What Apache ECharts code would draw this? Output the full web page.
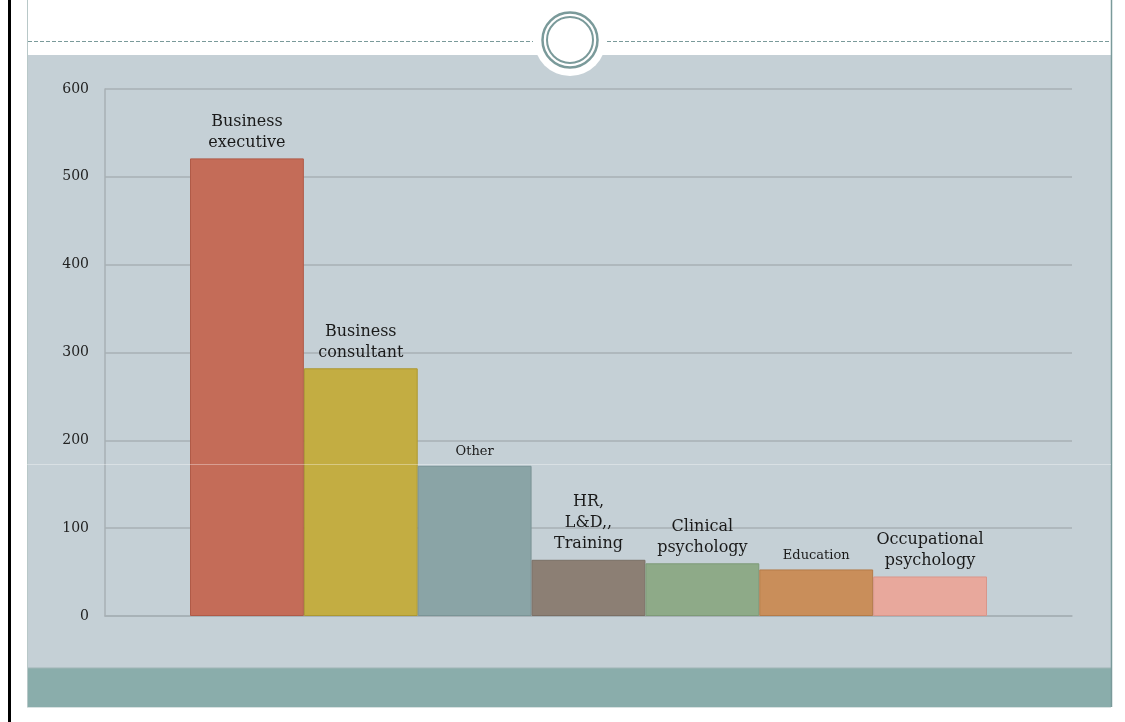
<!DOCTYPE html>
<html>
<head>
<meta charset="utf-8">
<title>Occupations</title>
<script src="https://cdn.jsdelivr.net/npm/echarts@6/dist/echarts.min.js"></script>
<style>
  html, body { margin: 0; padding: 0; background: #ffffff; }
  #chart { width: 1125px; height: 722px; }
</style>
</head>
<body>
<div id="chart"></div>
<script>
// Occupation categories (bar labels) and respondent counts
const categories = [
  'Business\nexecutive',
  'Business\nconsultant',
  'Other',
  'HR,\nL&D,,\nTraining',
  'Clinical\npsychology',
  'Education',
  'Occupational\npsychology'
];
const counts = [521, 282, 171, 64, 60, 53, 45];
const barColors = ['#c46c58', '#c3ad42', '#8aa4a6', '#8c7f74', '#8eaa88', '#c98e5a', '#e8a89c'];
const barBorders = ['#b05a47', '#ad9830', '#7a9496', '#7b6f65', '#7e9a78', '#b57b48', '#d9968a'];
const labelSizes = [16, 16, 13, 16, 16, 13, 16];
const yTicks = { min: 0, max: 600, interval: 100 };

const chart = echarts.init(document.getElementById('chart'));
const serif = 'DejaVu Serif';

const option = {
  animation: false,
  backgroundColor: '#ffffff',
  graphic: [
    // slide panel and bottom band
    { type: 'rect', z: -10, shape: { x: 27, y: 55, width: 1084, height: 613 }, style: { fill: '#c5d0d6' } },
    { type: 'rect', z: -10, shape: { x: 27, y: 668, width: 1084, height: 39 }, style: { fill: '#8aadab' } },
    { type: 'line', z: -9, shape: { x1: 27, y1: 668, x2: 1111, y2: 668 }, style: { stroke: '#9fb5b6', lineWidth: 1 } },
    // frame lines
    { type: 'line', z: -9, shape: { x1: 27.5, y1: 0, x2: 27.5, y2: 707 }, style: { stroke: '#b8c8c8', lineWidth: 1 } },
    { type: 'line', z: -9, shape: { x1: 1111.5, y1: 0, x2: 1111.5, y2: 707 }, style: { stroke: '#7a9a9a', lineWidth: 1.5 } },
    { type: 'line', z: -9, shape: { x1: 27, y1: 707.5, x2: 1111, y2: 707.5 }, style: { stroke: '#d8e2e2', lineWidth: 1 } },
    { type: 'line', z: -9, shape: { x1: 9.5, y1: 0, x2: 9.5, y2: 722 }, style: { stroke: '#000000', lineWidth: 3 } },
    // dashed header rule
    { type: 'line', z: -9, shape: { x1: 28, y1: 41.5, x2: 533, y2: 41.5 }, style: { stroke: '#7a9a9a', lineWidth: 1, lineDash: [4, 2] } },
    { type: 'line', z: -9, shape: { x1: 607, y1: 41.5, x2: 1111, y2: 41.5 }, style: { stroke: '#7a9a9a', lineWidth: 1, lineDash: [4, 2] } },
    // circular ornament
    { type: 'circle', z: -8, shape: { cx: 570, cy: 40, r: 36 }, style: { fill: '#ffffff' } },
    { type: 'circle', z: -7, shape: { cx: 570, cy: 40, r: 27.5 }, style: { fill: 'none', stroke: '#7a9a9a', lineWidth: 2.5 } },
    { type: 'circle', z: -7, shape: { cx: 570, cy: 40, r: 23 }, style: { fill: 'none', stroke: '#7a9a9a', lineWidth: 2 } },
    // faint light streak across the panel
    { type: 'line', z: 100, silent: true, shape: { x1: 27, y1: 464.5, x2: 1111, y2: 464.5 }, style: { stroke: 'rgba(255,255,255,0.35)', lineWidth: 1 } }
  ],
  grid: [
    { left: 105, right: 53, top: 89, bottom: 106 },
    { left: 190, right: 138, top: 89, bottom: 106 }
  ],
  xAxis: [
    {
      gridIndex: 0, type: 'category', data: [''],
      axisLine: { show: true, lineStyle: { color: '#a7b0b5', width: 1.5 } },
      axisTick: { show: false }, axisLabel: { show: false }, splitLine: { show: false }
    },
    {
      gridIndex: 1, type: 'category', data: categories,
      axisLine: { show: false }, axisTick: { show: false }, axisLabel: { show: false }
    }
  ],
  yAxis: [
    {
      gridIndex: 0, type: 'value', min: yTicks.min, max: yTicks.max, interval: yTicks.interval,
      axisLine: { show: true, lineStyle: { color: '#a7b0b5', width: 1.5 } },
      axisTick: { show: false },
      axisLabel: { color: '#222222', fontFamily: serif, fontSize: 14, margin: 16 },
      splitLine: { lineStyle: { color: '#a7b0b5', width: 1.5 } }
    },
    {
      gridIndex: 1, type: 'value', min: yTicks.min, max: yTicks.max, interval: yTicks.interval,
      axisLine: { show: false }, axisTick: { show: false }, axisLabel: { show: false }, splitLine: { show: false }
    }
  ],
  series: [
    {
      type: 'bar',
      xAxisIndex: 1,
      yAxisIndex: 1,
      barCategoryGap: 0,
      data: counts.map((v, i) => ({
        value: v,
        itemStyle: { color: barColors[i], borderColor: barBorders[i], borderWidth: 1 },
        label: { fontSize: labelSizes[i], lineHeight: labelSizes[i] === 16 ? 21 : 18 }
      })),
      label: {
        show: true,
        position: 'top',
        distance: 5,
        color: '#1a1a1a',
        fontFamily: serif,
        align: 'center',
        formatter: p => categories[p.dataIndex]
      }
    }
  ]
};

chart.setOption(option);
</script>
</body>
</html>
